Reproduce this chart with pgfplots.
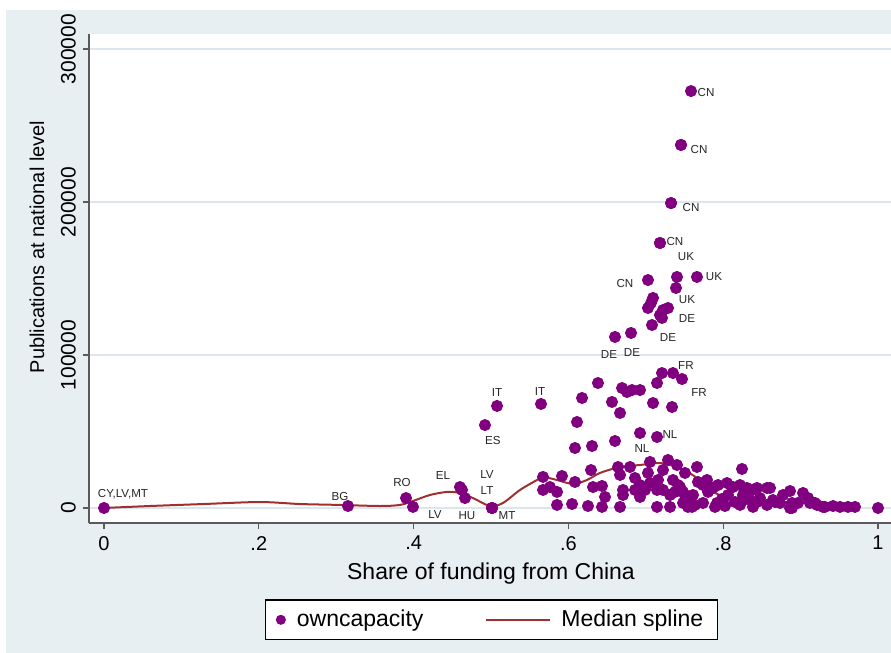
\documentclass[border=0pt]{standalone}
\usepackage{fontspec}
\setmainfont{Liberation Sans}
\usepackage{pgfplots}
\usepackage{pgfplotstable}
\pgfplotsset{compat=1.18}
\definecolor{bgc}{RGB}{232,239,242}
\definecolor{gridc}{RGB}{221,231,235}
\definecolor{pcol}{RGB}{128,0,128}
\definecolor{scol}{RGB}{160,48,48}
\definecolor{axc}{RGB}{90,90,90}

\pgfplotstableread{
x y
0.7455 237300
0.7326 199300
0.7183 173200
0.7067 134000
0.7093 137300
0.7028 130720
0.7222 129400
0.7183 126100
0.7209 124200
0.7209 88200
0.7145 81700
0.7093 68600
0.7339 66000
0.6382 81700
0.6693 78400
0.6757 75800
0.6822 77100
0.6925 77100
0.6563 69300
0.6667 62100
0.6176 71900
0.6111 56200
0.6085 39200
0.6305 40500
0.6602 43800
0.4625 11800
0.5672 20300
0.5672 11800
0.5762 13700
0.5853 10500
0.5917 20900
0.5853 2000
0.6047 2600
0.6253 1300
0.6292 24800
0.6318 13700
0.6085 17000
0.6434 14400
0.6473 7200
0.6434 700
0.6641 26800
0.6667 21600
0.6796 26800
0.6705 11800
0.6705 8500
0.6667 700
0.6860 19600
0.6925 15000
0.6860 11800
0.6990 11800
0.7054 30100
0.7028 22900
0.7054 16300
0.7145 11800
0.7222 24800
0.7222 11800
0.7145 700
0.7313 700
0.7158 18300
0.6925 7200
0.7287 31400
0.7351 18300
0.7416 15000
0.7481 10500
0.7377 10500
0.7313 8500
0.7532 7200
0.7610 8500
0.7661 26800
0.7674 17000
0.7739 15000
0.7791 18300
0.7545 700
0.7636 2000
0.7868 13100
0.7933 15000
0.8049 16300
0.8127 13700
0.8217 15000
0.8307 13100
0.8385 11800
0.8243 25500
0.7920 3300
0.8023 1300
0.8152 3900
0.8243 5200
0.8346 5200
0.8437 3900
0.7894 700
0.7984 5900
0.7403 28100
0.7506 22900
0.7442 13700
0.7506 8500
0.7481 3300
0.7804 10500
0.8062 8500
0.8256 8500
0.7739 3300
0.7597 700
0.8437 13100
0.8605 13100
0.8863 11100
0.9031 9800
0.9096 6500
0.8307 7200
0.8475 6500
0.8643 5200
0.8734 3300
0.8889 3300
0.8966 3300
0.9121 3300
0.9212 2000
0.9315 700
0.9419 1300
0.9509 700
0.9612 700
0.9703 700
1.0000 0
0.8863 0
0.8217 2000
0.8385 700
0.8566 2000
0.8669 3900
0.9186 3300
0.9289 700
0.8889 0
0.8566 13100
0.8773 8500
}\points

\pgfplotstableread{
x y label dx dy
0.7584 272500 CN 7.5 -0.5
0.7455 237300 CN 9 -2.5
0.7326 199300 CN 10 -2
0.7183 173200 CN 7.5 0.5
0.7403 151000 UK 4.5 10
0.7661 151000 UK 8.5 0
0.7390 143800 UK 5.5 -6
0.7028 149000 CN -11.5 -1.5
0.7287 130720 DE 9.5 -5.5
0.7080 119600 DE 8 -6
0.6602 111800 DE -3 -9
0.6809 114400 DE 0.5 -10
0.7351 88200 FR 6.5 4
0.7468 84300 FR 8.5 -6.5
0.7145 46400 NL 6.5 1
0.6925 49000 NL 1 -7.5
0.5078 66700 IT 0 6.5
0.5646 68000 IT -0.5 6
0.4922 54200 ES 4 -7.5
0.3902 6500 RO -2 8
0.3992 700 LV 11 -4
0.4599 13700 EL -8.5 6
0.4664 6500 HU 1 -9
0.5013 0 LV -2.5 16.5
0.5013 0 LT -2.5 8.5
0.5013 0 MT 7.5 -4
0.3152 1300 BG -4 4.5
0 0 CY,LV,MT 9.5 7
}\labeled

\pgfplotstableread{
x y
0 0
0.0594 1300
0.129 2600
0.2016 3900
0.253 2600
0.3049 2000
0.3566 1300
0.3824 2000
0.3992 4600
0.4212 8500
0.4432 10500
0.46 9800
0.4767 6500
0.4987 1300
0.5155 3300
0.5375 11800
0.5594 18300
0.5672 20300
0.5853 18300
0.606 15700
0.624 18300
0.6408 22900
0.6667 26800
0.6925 28100
0.7183 29400
0.7442 26100
0.7661 19600
0.7829 11800
0.8023 7200
0.8282 5200
0.8605 4600
0.8992 3300
0.938 2000
0.970 700
}\spline

\begin{document}
\begin{tikzpicture}
\useasboundingbox (0,0) rectangle (445.5pt,326.5pt);
\fill[white] (0,0) rectangle (445.5pt,326.5pt);
\fill[bgc] (3pt,0) rectangle (445.5pt,321.5pt);
\begin{axis}[
  at={(44.5pt,65pt)}, anchor=south west,
  width=401pt, height=244.5pt, scale only axis,
  xmin=-0.0194, xmax=1.0168, ymin=-9804, ymax=309806,
  axis lines*=left,
  axis line style={axc, line width=0.6pt},
  axis background/.style={fill=white},
  tick align=outside, major tick length=3pt,
  tick style={axc, line width=0.6pt},
  xtick={0,0.2,0.4,0.6,0.8,1}, xticklabels={0,.2,.4,.6,.8,1},
  ytick={0,100000,200000,300000}, yticklabels={0,100000,200000,300000},
  scaled y ticks=false,
  ymajorgrids, major grid style={gridc, line width=0.8pt},
  xticklabel style={font=\fontsize{10}{12}\selectfont},
  yticklabel style={font=\fontsize{10.5}{12}\selectfont, rotate=90, anchor=south},
  clip=false,
  every axis x label/.style={at={(axis description cs:0.5012,-0.1043)}, anchor=center, font=\fontsize{11.5}{13}\selectfont},
  every axis y label/.style={at={(axis description cs:-0.0648,0.5644)}, rotate=90, anchor=center, font=\fontsize{10}{12}\selectfont},
  xlabel={Share of funding from China},
  ylabel={Publications at national level},
  legend columns=2,
  legend style={at={(axis description cs:0.502,-0.198)}, anchor=center, draw=black, line width=0.6pt, fill=white, font=\fontsize{11.5}{13}\selectfont, inner xsep=5pt, inner ysep=3pt, /tikz/every even column/.append style={column sep=29pt}},
]
\addplot[only marks, mark=*, mark size=2.8pt, color=pcol,
  legend image code/.code={\fill[pcol] (0pt,0pt) circle (2.2pt); \path[draw=none, fill=none] (0pt,0pt) -- (6pt,0pt);}] table {\points};
\addlegendentry{owncapacity}
\addplot[forget plot, only marks, mark=*, mark size=2.8pt, color=pcol,
  nodes near coords, point meta=explicit symbolic,
  visualization depends on={\thisrow{dx} \as \dx},
  visualization depends on={\thisrow{dy} \as \dy},
  every node near coord/.append style={anchor=center, xshift=\dx pt, yshift=\dy pt, font=\fontsize{5.8}{6}\selectfont, text=black!85, inner sep=0pt}]
  table[x=x, y=y, meta=label] {\labeled};
\addplot[smooth, scol, line width=1pt,
  legend image code/.code={\draw[scol, line width=1pt] (0pt,0pt) -- (32pt,0pt); \path[draw=none, fill=none] (32pt,0pt) -- (35.5pt,0pt);}] table {\spline};
\addlegendentry{Median spline}
\end{axis}
\end{tikzpicture}
\end{document}
